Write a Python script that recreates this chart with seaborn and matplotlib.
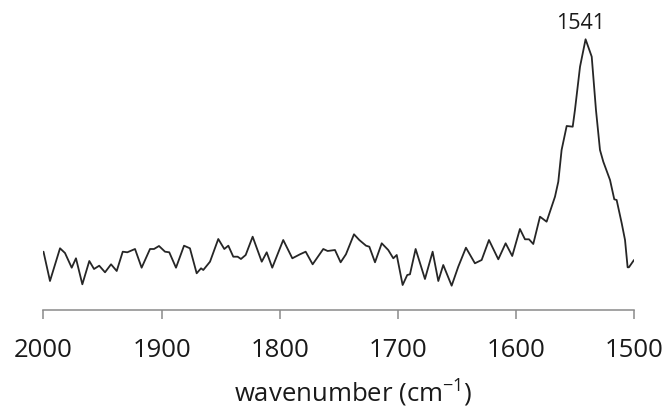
import matplotlib
matplotlib.use("Agg")
import matplotlib.pyplot as plt
import seaborn as sns
import numpy as np
import pandas as pd

# Spectrum: wavenumber (cm-1) and intensity (arbitrary units)
wavenumber = [
    2000.0, 1994.5, 1986.0, 1981.8, 1976.1, 1972.5, 1967.1, 1961.2, 1957.2, 1952.8,
    1947.9, 1942.8, 1938.0, 1932.9, 1929.0, 1922.5, 1916.9, 1909.8, 1906.4, 1902.2,
    1897.1, 1893.5, 1887.8, 1881.0, 1876.0, 1870.3, 1866.6, 1864.7, 1859.0, 1852.0,
    1846.9, 1843.5, 1839.3, 1835.6, 1832.8, 1828.8, 1822.9, 1815.2, 1811.0, 1806.3,
    1797.0, 1789.3, 1782.8, 1778.0, 1772.1, 1763.1, 1759.4, 1753.2, 1748.4, 1743.9,
    1737.1, 1732.6, 1726.9, 1724.1, 1719.3, 1713.6, 1708.1, 1703.8, 1700.9, 1695.9,
    1692.0, 1689.7, 1684.9, 1677.0, 1670.5, 1665.7, 1661.5, 1654.4, 1648.8, 1642.3,
    1634.7, 1629.0, 1622.8, 1614.9, 1608.7, 1603.1, 1596.6, 1592.3, 1588.9, 1585.3,
    1579.6, 1574.0, 1566.9, 1564.1, 1561.3, 1557.0, 1551.9, 1550.0, 1545.7, 1541.0,
    1535.8, 1532.2, 1528.8, 1526.0, 1520.3, 1516.7, 1514.7, 1510.4, 1507.6, 1505.4,
    1504.3, 1500.0,
]
intensity = [
    58.3, 29.0, 61.7, 57.0, 42.3, 51.7, 25.7, 49.0, 41.0, 44.3,
    37.7, 45.7, 39.0, 58.3, 57.7, 61.0, 42.3, 61.0, 61.0, 64.0,
    58.3, 57.7, 42.3, 64.3, 61.7, 36.7, 41.7, 40.0, 48.3, 71.0,
    61.0, 64.3, 53.3, 53.3, 51.0, 55.0, 73.3, 48.3, 57.7, 42.3,
    70.0, 51.7, 55.7, 58.3, 45.7, 61.0, 59.0, 60.0, 47.7, 55.7,
    75.7, 70.0, 64.3, 63.3, 47.7, 66.7, 60.0, 51.7, 55.0, 25.0,
    35.0, 35.7, 61.0, 31.0, 58.3, 29.0, 45.0, 24.3, 43.3, 62.3,
    46.7, 50.0, 70.0, 50.7, 66.7, 54.0, 81.0, 70.7, 70.7, 66.0,
    93.3, 88.3, 113.3, 128.3, 160.0, 184.0, 183.3, 200.0, 243.3, 270.7,
    253.3, 200.0, 160.0, 148.3, 130.0, 110.7, 110.0, 86.7, 70.0, 42.7,
    42.7, 50.0,
]
xticks = [2000, 1900, 1800, 1700, 1600, 1500]

sns.set_theme(style="white")
plt.rcParams["font.family"] = ["Open Sans", "DejaVu Sans"]
plt.rcParams["mathtext.fontset"] = "custom"
plt.rcParams["mathtext.rm"] = "Open Sans"
plt.rcParams["mathtext.it"] = "Open Sans"
plt.rcParams["mathtext.bf"] = "Open Sans"

df = pd.DataFrame({"wavenumber": wavenumber, "intensity": intensity})

fig = plt.figure(figsize=(6.68, 4.13), dpi=100)
ax = fig.add_axes([0.0651, 0.2494, 0.8840, 0.7022])

sns.lineplot(data=df, x="wavenumber", y="intensity", ax=ax,
             color="#262626", linewidth=1.3, sort=False)

ax.set_xlim(2000, 1500)
ax.set_ylim(0, 290)
ax.set_xticks(xticks)
ax.set_xticklabels([str(t) for t in xticks])
ax.set_yticks([])
ax.set_ylabel("")

for side in ("left", "top", "right"):
    ax.spines[side].set_visible(False)
ax.spines["bottom"].set_color("#8a8a8a")
ax.spines["bottom"].set_linewidth(1.1)
ax.tick_params(axis="x", direction="out", length=6.5, width=1.1,
               color="#8a8a8a", labelsize=18.5, labelcolor="#1a1a1a", pad=14,
               bottom=True)

ax.set_xlabel("wavenumber (cm$^{-1}$)", fontsize=18.5, color="#1a1a1a")
ax.xaxis.set_label_coords(0.524, -0.287)
ax.xaxis.label.set_va("center")

# Label the strongest band
i_peak = int(np.argmax(intensity))
ax.annotate(f"{wavenumber[i_peak]:.0f}",
            xy=(wavenumber[i_peak], intensity[i_peak]),
            xytext=(-3.5, 4.0), textcoords="offset points",
            ha="center", va="bottom", fontsize=15.5, color="#1a1a1a")

fig.savefig("out.png", dpi=100, facecolor="white")
